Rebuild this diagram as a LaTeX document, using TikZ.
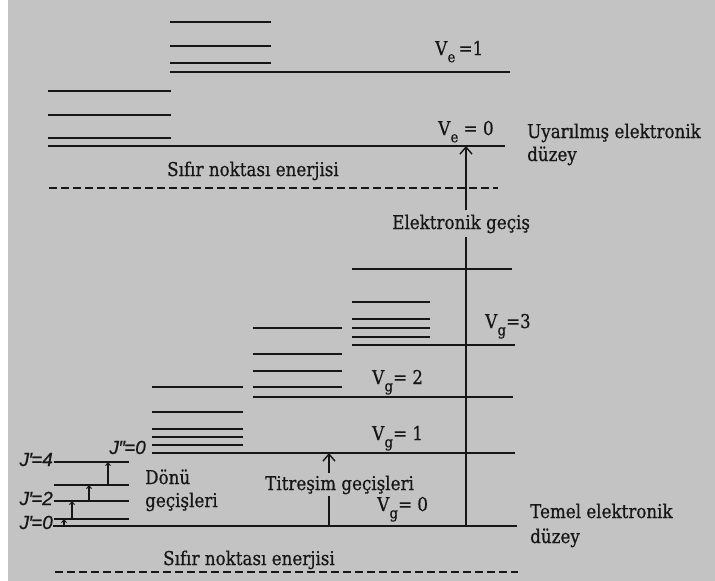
\documentclass[tikz,border=0pt]{standalone}
\usepackage{fontspec}
\setmainfont{DejaVu Serif}[FakeStretch=0.88,FakeBold=0.6]
\newfontfamily\jfont{Liberation Sans}[FakeBold=0.6]
\usetikzlibrary{arrows.meta}
\definecolor{paper}{HTML}{C3C3C3}
\definecolor{ink}{HTML}{161616}

\newcommand{\vsub}[2]{V\kern0.3pt\raisebox{-0.38em}{\fontsize{15}{15}\selectfont #1}#2}

\begin{document}
\begin{tikzpicture}[x=1pt,y=-1pt,
  level/.style={line width=1.4pt,draw=ink},
  sublevel/.style={line width=1.7pt,draw=ink},
  zeropt/.style={line width=1.5pt,draw=ink,dash pattern=on 8pt off 4pt},
  txt/.style={inner sep=0pt,text=ink,font=\fontsize{19}{21}\selectfont},
  jtxt/.style={inner sep=0pt,text=ink,font=\jfont\itshape\fontsize{19}{21}\selectfont},
  bigarrow/.style={line width=1.5pt,draw=ink,-{Straight Barb[length=7pt,width=12pt,line width=1.4pt]}},
  shaft/.style={line width=1.5pt,draw=ink},
  jarrow/.style={line width=1.1pt,draw=ink,-{Straight Barb[length=3pt,width=5pt,line width=0.9pt]}}]

% page with a white margin strip on the left
\fill[white] (0,0) rectangle (715,581);
\fill[paper] (8,0) rectangle (715,581);
\useasboundingbox (0,0) rectangle (715,581);

% ---------- excited electronic state ----------
\foreach \y in {22,46,63} \draw[sublevel] (170,\y) -- (271,\y);
\draw[level] (170,72) -- (510,72);
\foreach \y in {91,115,138} \draw[sublevel] (48,\y) -- (171,\y);
\draw[level] (48,146) -- (505,146);
\draw[zeropt] (49,188) -- (498,188);

\node[txt,anchor=base west] (ve1) at (435,55) {\vsub{e}{\,=1}};
\node[txt,anchor=base west] (ve0) at (438,135) {\vsub{e}{ = 0}};
\node[txt,anchor=base west] (exc1) at (527,138) {Uyarılmış elektronik};
\node[txt,anchor=base west] (exc2) at (527,161) {düzey};
\node[txt,anchor=base west] (zpe1) at (167,176) {Sıfır noktası enerjisi};

% ---------- ground electronic state: vibrational manifolds ----------
% v = 3
\draw[sublevel] (352,269) -- (512,269);
\foreach \y in {302,319,328,337} \draw[sublevel] (352,\y) -- (430,\y);
\draw[level] (352,345) -- (515,345);
% v = 2
\foreach \y in {328,354,371,387} \draw[sublevel] (253,\y) -- (342,\y);
\draw[level] (253,397) -- (513,397);
% v = 1
\foreach \y in {387,412,429,437,445} \draw[sublevel] (152,\y) -- (243,\y);
\draw[level] (152,453) -- (515,453);
% rotational levels of v = 0
\foreach \y in {462,485,501,519} \draw[level] (54,\y) -- (129,\y);
\draw[level] (53,526) -- (517,526);
\draw[zeropt] (55,572) -- (518,572);

\node[txt,anchor=base west] (vg3) at (485,328) {\vsub{g}{=3}};
\node[txt,anchor=base west] (vg2) at (372,384) {\vsub{g}{= 2}};
\node[txt,anchor=base west] (vg1) at (372,440) {\vsub{g}{= 1}};
\node[txt,anchor=base west] (vg0) at (377,511) {\vsub{g}{= 0}};
\node[txt,anchor=base west] (gnd1) at (530,518) {Temel elektronik};
\node[txt,anchor=base west] (gnd2) at (530,543) {düzey};
\node[txt,anchor=base west] (zpe2) at (163,565) {Sıfır noktası enerjisi};

\node[jtxt,anchor=base east] (j4) at (53,466) {J\kern-0.5pt′\kern-1pt=4};
\node[jtxt,anchor=base east] (j2) at (53,505) {J\kern-0.5pt′\kern-1pt=2};
\node[jtxt,anchor=base east] (j0) at (53,529) {J\kern-0.5pt′\kern-1pt=0};
\node[jtxt,anchor=base east] (jpp) at (146,454) {J\kern-0.5pt″\kern-1pt=0};

\node[txt,anchor=base west] (rot1) at (145,484) {Dönü};
\node[txt,anchor=base west] (rot2) at (145,507) {geçişleri};

% ---------- transitions ----------
% electronic
\coordinate (eLow) at (466,526);
\coordinate (eHigh) at (466,146);
\node[txt,anchor=base west,inner ysep=4pt] (elec) at (392,229) {Elektronik geçiş};
\draw[shaft] (eLow) -- (eLow |- elec.south);
\draw[bigarrow] (eHigh |- elec.north) -- (eHigh);

% vibrational
\coordinate (vLow) at (329,526);
\coordinate (vHigh) at (329,453);
\node[txt,anchor=base west,inner ysep=2pt] (vib) at (265,490) {Titreşim geçişleri};
\draw[shaft] (vLow) -- (vLow |- vib.south);
\draw[bigarrow] (vHigh |- vib.north) -- (vHigh);

% rotational
\coordinate (r0a) at (64,526);  \coordinate (r0b) at (64,519);
\coordinate (r1a) at (72,519);  \coordinate (r1b) at (72,501);
\coordinate (r2a) at (89,501);  \coordinate (r2b) at (89,485);
\coordinate (r3a) at (108,485); \coordinate (r3b) at (108,462);
\draw[jarrow] (r0a) -- (r0b);
\draw[jarrow] (r1a) -- (r1b);
\draw[jarrow] (r2a) -- (r2b);
\draw[jarrow] (r3a) -- (r3b);
\end{tikzpicture}
\end{document}
